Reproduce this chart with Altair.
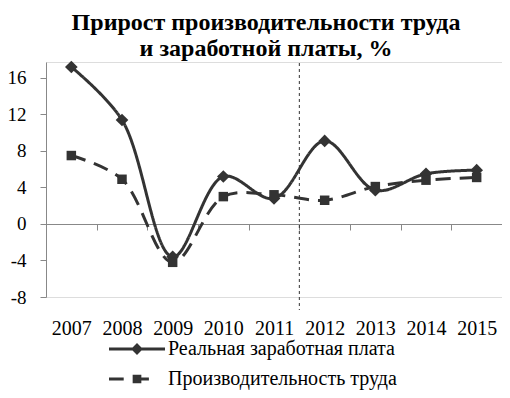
import altair as alt
import pandas as pd

years = ["2007", "2008", "2009", "2010", "2011", "2012", "2013", "2014", "2015"]
wages = [17.2, 11.4, -3.6, 5.2, 2.8, 9.1, 3.7, 5.5, 5.9]
productivity = [7.5, 4.9, -4.2, 3.0, 3.2, 2.6, 4.1, 4.8, 5.1]
series_names = ["Реальная заработная плата", "Производительность труда"]
y_ticks = [-8, -4, 0, 4, 8, 12, 16]
title_lines = ["Прирост производительности труда", "и заработной платы, %"]
split_year = "2012"

rows = []
for name, vals in zip(series_names, [wages, productivity]):
    for yr, v in zip(years, vals):
        rows.append({"year": yr, "value": v, "series": name})
df = pd.DataFrame(rows)

DARK = "#333333"
SERIF = "Liberation Serif"

x_enc = alt.X(
    "year:N",
    sort=years,
    scale=alt.Scale(type="band", domain=years, paddingInner=0, paddingOuter=0),
    axis=alt.Axis(
        title=None,
        orient="bottom",
        offset=-73,
        domainColor="#888888",
        domainWidth=1,
        tickColor="#888888",
        tickSize=6,
        tickBand="extent",
        labelAngle=0,
        labelFont=SERIF,
        labelFontSize=20,
        labelColor="black",
        labelPadding=88,
    ),
)
y_enc = alt.Y(
    "value:Q",
    scale=alt.Scale(domain=[-8, 17.75], nice=False, zero=False),
    axis=alt.Axis(
        title=None,
        values=y_ticks,
        grid=False,
        domainColor="#888888",
        tickColor="#888888",
        tickSize=6,
        labelPadding=14,
        labelFont=SERIF,
        labelFontSize=19,
        labelColor="black",
        labelExpr="'' + datum.value",
    ),
)

base = alt.Chart(df)

lines = base.mark_line(interpolate="catmull-rom", strokeWidth=3, color=DARK).encode(
    x=x_enc,
    y=y_enc,
    strokeDash=alt.StrokeDash(
        "series:N",
        scale=alt.Scale(domain=series_names, range=[[1, 0], [15, 9]]),
        legend=None,
    ),
)

points = base.mark_point(filled=True, opacity=1, color=DARK).encode(
    x=x_enc,
    y=y_enc,
    shape=alt.Shape(
        "series:N",
        scale=alt.Scale(domain=series_names, range=["diamond", "square"]),
        legend=None,
    ),
    size=alt.Size(
        "series:N",
        scale=alt.Scale(domain=series_names, range=[160, 90]),
        legend=None,
    ),
)

vline = alt.Chart(pd.DataFrame({"year": [split_year]})).mark_rule(
    color=DARK, strokeDash=[3, 3], strokeWidth=1
).encode(
    x=alt.X("year:N", bandPosition=0),
    y=alt.value(1),
    y2=alt.value(248),
)

legend_paths = [
    "M-4,-0.21L4,-0.21L4,0.21L-4,0.21Z"
    "M0,-0.85L0.85,0L0,0.85L-0.85,0Z",
    "M-4,-0.21L-1.9,-0.21L-1.9,0.21L-4,0.21Z"
    "M-0.62,-0.62L0.62,-0.62L0.62,0.62L-0.62,0.62Z"
    "M0.6,-0.21L1.7,-0.21L1.7,0.21L0.6,0.21Z",
]

legend_layer = base.transform_filter("false").mark_point(
    filled=True, opacity=1, color=DARK
).encode(
    x=x_enc,
    y=y_enc,
    shape=alt.Shape(
        "series:N",
        scale=alt.Scale(domain=series_names, range=legend_paths),
        legend=alt.Legend(
            title=None,
            orient="none",
            legendX=81,
            legendY=277,
            direction="vertical",
            symbolSize=196,
            symbolFillColor=DARK,
            symbolStrokeWidth=0,
            symbolOpacity=1,
            labelFont=SERIF,
            labelFontSize=20,
            labelColor="black",
            labelOffset=21,
            rowPadding=10,
            padding=0,
            labelLimit=400,
        ),
    ),
)

chart = (
    alt.layer(lines, points, vline, legend_layer)
    .resolve_scale(shape="independent")
    .properties(
        width=456,
        height=235,
        autosize=alt.AutoSizeParams(type="none"),
        padding={"left": 38, "top": 54, "right": 0, "bottom": 93},
        title=alt.TitleParams(
            text=title_lines,
            font=SERIF,
            fontSize=24,
            fontWeight="bold",
            color="black",
            anchor="middle",
            dx=-8,
            offset=0,
            lineHeight=26,
        ),
    )
    .configure_view(stroke=None)
    .configure_legend(labelFont=SERIF)
    .configure(background="white")
)

chart.save("out.html", embed_options={"renderer": "svg", "actions": False})
